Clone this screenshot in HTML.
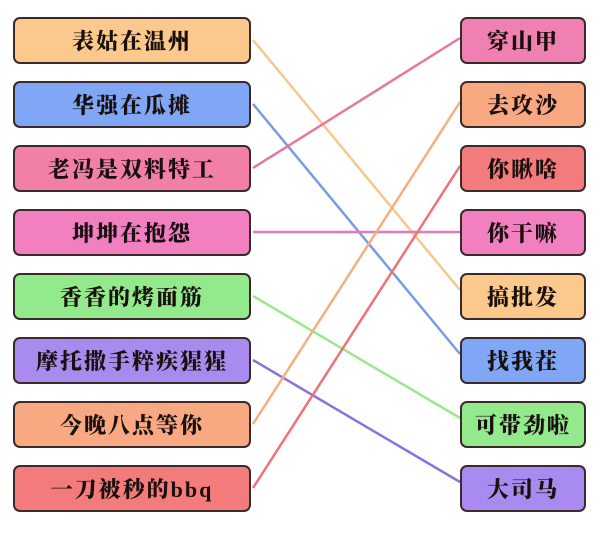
<!DOCTYPE html>
<html><head><meta charset="utf-8"><style>
body{margin:0;width:600px;height:536px;background:#fff;position:relative;overflow:hidden;font-family:"Liberation Serif","Noto Serif CJK SC",serif;}
.b{position:absolute;height:43px;border:2px solid #3b2a2a;border-radius:7px;display:flex;align-items:center;justify-content:center;font-weight:900;font-size:22px;color:#1a1010;letter-spacing:2px;box-sizing:content-box}
.l{left:13px;width:234px}
.r{left:460px;width:122px}
svg{position:absolute;left:0;top:0}
</style></head><body>
<svg width="600" height="536">
<g stroke-width="2.5" fill="none">
<line x1="253" y1="40" x2="460" y2="290" stroke="#f3c98c"/>
<line x1="253" y1="104" x2="460" y2="354" stroke="#7b9be0"/>
<line x1="253" y1="168" x2="460" y2="38" stroke="#e7799f"/>
<line x1="253" y1="232" x2="460" y2="232" stroke="#e579b9"/>
<line x1="253" y1="296" x2="460" y2="418" stroke="#9ae88e"/>
<line x1="253" y1="360" x2="460" y2="482" stroke="#8a72dc"/>
<line x1="253" y1="424" x2="460" y2="102" stroke="#f4b080"/>
<line x1="253" y1="488" x2="460" y2="166" stroke="#ee7378"/>
</g></svg>
<div class="b l" style="top:17px;background:#fbc98b">表姑在温州</div>
<div class="b l" style="top:81px;background:#80a7f5">华强在瓜摊</div>
<div class="b l" style="top:145px;background:#f17fa8">老冯是双料特工</div>
<div class="b l" style="top:209px;background:#f27fc0">坤坤在抱怨</div>
<div class="b l" style="top:273px;background:#92ea8c">香香的烤面筋</div>
<div class="b l" style="top:337px;background:#a98bf0">摩托撒手粹疾猩猩</div>
<div class="b l" style="top:401px;background:#f8a981">今晚八点等你</div>
<div class="b l" style="top:465px;background:#f47b7b">一刀被秒的bbq</div>
<div class="b r" style="top:17px;background:#f080b2">穿山甲</div>
<div class="b r" style="top:81px;background:#f8a981">去攻沙</div>
<div class="b r" style="top:145px;background:#f47b7b">你瞅啥</div>
<div class="b r" style="top:209px;background:#f27fc0">你干嘛</div>
<div class="b r" style="top:273px;background:#fbc98b">搞批发</div>
<div class="b r" style="top:337px;background:#80a7f5">找我茬</div>
<div class="b r" style="top:401px;background:#92ea8c">可带劲啦</div>
<div class="b r" style="top:465px;background:#a98bf0">大司马</div>
</body></html>
